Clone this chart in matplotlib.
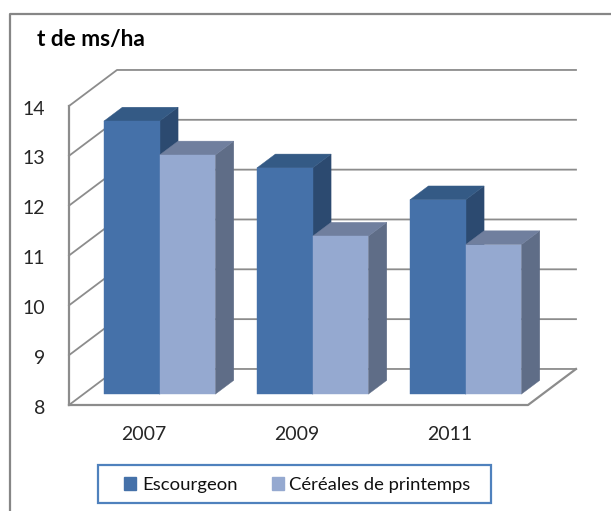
import matplotlib.pyplot as plt
from matplotlib.lines import Line2D
from matplotlib.patches import Patch, Polygon, Rectangle
from matplotlib.transforms import ScaledTranslation

plt.rcParams['font.family'] = ['Lato', 'DejaVu Sans']

years = ['2007', '2009', '2011']
escourgeon = [13.48, 12.54, 11.9]
cereales = [12.8, 11.17, 11.0]
y_ticks = [8, 9, 10, 11, 12, 13, 14]

W, H = 611, 511
# oblique projection: depth 1 moves this far along x (categories) and y (t/ha)
DX = 48 / 153
DY = 36 / 49.8


def proj(x, y, z):
    return (x + z * DX, y + z * DY)


def draw_bar(ax, x, w, top, front, side, roof):
    z0, z1 = 0.3, 0.685
    faces = [
        ([proj(x + w, 8, z0), proj(x + w, 8, z1), proj(x + w, top, z1), proj(x + w, top, z0)], side),
        ([proj(x, top, z0), proj(x + w, top, z0), proj(x + w, top, z1), proj(x, top, z1)], roof),
        ([proj(x, 8, z0), proj(x + w, 8, z0), proj(x + w, top, z0), proj(x, top, z0)], front),
    ]
    for pts, col in faces:
        ax.add_patch(Polygon(pts, closed=True, facecolor=col, edgecolor=col, linewidth=0.3,
                             clip_on=False, zorder=3))


fig = plt.figure(figsize=(W / 100, H / 100), dpi=100)
ax = fig.add_axes([69 / W, 1 - 405 / H, 459 / W, 299 / H])
ax.set_xlim(0, 3)
ax.set_ylim(8, 14)
for s in ax.spines.values():
    s.set_visible(False)
ax.patch.set_visible(False)

# walls and gridlines
grid_col = '#8c8c8c'
for t in y_ticks:
    ax.plot(*zip(proj(0, t, 0), proj(0, t, 1), proj(3, t, 1)), color=grid_col, lw=1.3,
            clip_on=False, zorder=1)
ax.plot(*zip(proj(0, 8, 0), proj(3, 8, 0), proj(3, 8, 1)), color=grid_col, lw=1.6,
        clip_on=False, zorder=2)
ax.plot(*zip(proj(0, 8, 0), proj(0, 14, 0)), color=grid_col, lw=1.6, clip_on=False, zorder=2)

# bars
bar_w = 0.364
for i in range(len(years)):
    draw_bar(ax, i + 0.134, bar_w, escourgeon[i], '#4571a9', '#2c4a70', '#345a85')
    draw_bar(ax, i + 0.134 + bar_w, bar_w, cereales[i], '#95a9d0', '#5f6d87', '#707f9e')

ax.set_yticks(y_ticks)
ax.set_xticks([i + 0.49 for i in range(len(years))])
ax.set_xticklabels(years)
ax.tick_params(axis='y', length=0, pad=17, labelsize=14, labelcolor='#262626')
ax.tick_params(axis='x', length=0, pad=15, labelsize=14, labelcolor='#262626')
# y labels sit a little lower than the tick position
for lbl in ax.get_yticklabels():
    lbl.set_transform(lbl.get_transform() + ScaledTranslation(0, -1.5 / 100, fig.dpi_scale_trans))

fig.text(37 / W, 1 - 39 / H, 't de ms/ha', fontsize=16.3, fontweight='bold', color='black',
         va='center', ha='left')

# outer chart frame, runs off the right and bottom of the picture
frame_col = '#868686'
fig.add_artist(Line2D([10 / W, 10 / W, 1], [0, 1 - 14 / H, 1 - 14 / H], color=frame_col, lw=1.6))

fig.add_artist(Rectangle((98 / W, 1 - 503 / H), 393 / W, 38 / H, transform=fig.transFigure,
                         facecolor='white', edgecolor='#4f81bd', linewidth=1.6))
handles = [Patch(facecolor='#4571a9', edgecolor='#4571a9'),
           Patch(facecolor='#95a9d0', edgecolor='#95a9d0')]
leg = fig.legend(handles, ['Escourgeon', 'Céréales de printemps'], ncol=2,
                 loc='center', bbox_to_anchor=(297.5 / W, 1 - 485 / H), fontsize=13.3,
                 frameon=False, handlelength=0.65, handleheight=0.65, handletextpad=0.3,
                 columnspacing=1.85, labelcolor='#111111')
leg.set_zorder(5)

plt.savefig('out.png', dpi=100)
